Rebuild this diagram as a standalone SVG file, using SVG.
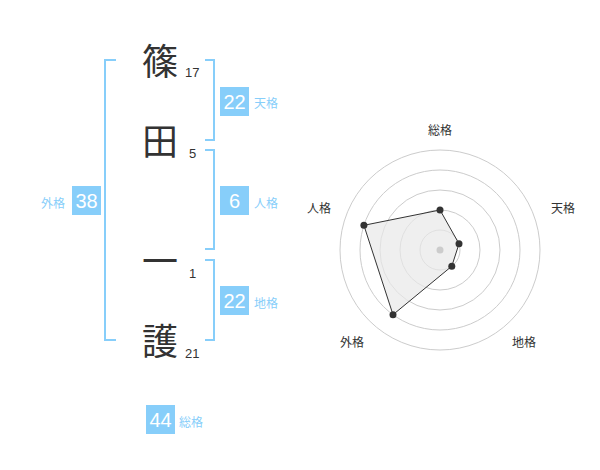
<svg xmlns="http://www.w3.org/2000/svg" width="600" height="470" viewBox="0 0 600 470">
<style>
.ch{font-family:"Noto Sans CJK JP","Noto Sans CJK SC",sans-serif;font-size:36px;fill:#333;text-anchor:middle}
.st{font-family:"Liberation Sans",Arial,sans-serif;font-size:13px;fill:#333}
.br{fill:none;stroke:#87cefa;stroke-width:2}
.bx{fill:#87cefa}
.bn{font-family:"Liberation Sans",Arial,sans-serif;font-size:20px;fill:#fff;text-anchor:middle}
.bl{font-family:"Noto Sans CJK JP","Noto Sans CJK SC",sans-serif;font-size:12px;fill:#87cefa}
.rl{font-family:"Noto Sans CJK JP","Noto Sans CJK SC",sans-serif;font-size:12px;fill:#333;text-anchor:middle}
.ring{fill:none;stroke:#ccc;stroke-width:1}
</style>
<rect width="600" height="470" fill="#fff"/>
<g id="name">
<g id="char1"><text class="ch" x="160" y="75">篠</text><text class="st" x="185" y="77">17</text></g>
<g id="char2"><text class="ch" x="160" y="155">田</text><text class="st" x="189" y="158">5</text></g>
<g id="char3"><text class="ch" x="160" y="275">一</text><text class="st" x="189" y="278">1</text></g>
<g id="char4"><text class="ch" x="160" y="355">護</text><text class="st" x="185" y="358">21</text></g>
</g>
<g id="connectors">
<polyline class="br" points="116,60 105,60 105,340 116,340"/>
<polyline class="br" points="205,60 214,60 214,140 205,140"/>
<polyline class="br" points="205,150 214,150 214,249 205,249"/>
<polyline class="br" points="205,260 214,260 214,340 205,340"/>
</g>
<g id="tenkaku"><rect class="bx" x="220" y="87" width="29" height="29"/><text class="bn" x="234.5" y="109">22</text><text class="bl" x="254" y="108">天格</text></g>
<g id="jinkaku"><rect class="bx" x="220" y="186" width="29" height="29"/><text class="bn" x="234.5" y="208">6</text><text class="bl" x="254" y="208">人格</text></g>
<g id="chikaku"><rect class="bx" x="220" y="286" width="29" height="29"/><text class="bn" x="234.5" y="308">22</text><text class="bl" x="254" y="308">地格</text></g>
<g id="gaikaku"><rect class="bx" x="72" y="186" width="29" height="29"/><text class="bn" x="86.5" y="208">38</text><text class="bl" x="41" y="208">外格</text></g>
<g id="soukaku"><rect class="bx" x="146" y="405" width="29" height="29"/><text class="bn" x="160.5" y="427">44</text><text class="bl" x="179" y="427">総格</text></g>
<g id="radar">
<circle class="ring" cx="440" cy="250" r="20"/>
<circle class="ring" cx="440" cy="250" r="40"/>
<circle class="ring" cx="440" cy="250" r="60"/>
<circle class="ring" cx="440" cy="250" r="80"/>
<circle class="ring" cx="440" cy="250" r="100"/>
<polygon points="440,210 459,243.8 451.8,266.2 393,314.7 363.9,225.3" fill="#e8e8e8" fill-opacity="0.7" stroke="#333" stroke-width="1"/>
<circle cx="440" cy="250" r="3.5" fill="#ccc"/>
<g fill="#333">
<circle cx="440" cy="210" r="3.5"/>
<circle cx="459" cy="243.8" r="3.5"/>
<circle cx="451.8" cy="266.2" r="3.5"/>
<circle cx="393" cy="314.7" r="3.5"/>
<circle cx="363.9" cy="225.3" r="3.5"/>
</g>
<text class="rl" x="440" y="135">総格</text>
<text class="rl" x="563" y="213">天格</text>
<text class="rl" x="524" y="347">地格</text>
<text class="rl" x="352" y="347">外格</text>
<text class="rl" x="319" y="213">人格</text>
</g>
</svg>
